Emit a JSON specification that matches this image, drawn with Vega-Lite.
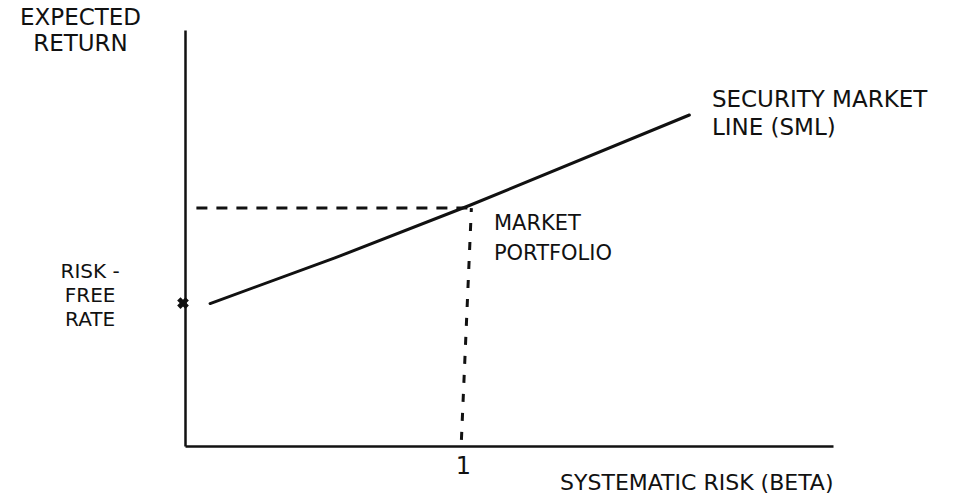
{
  "$schema": "https://vega.github.io/schema/vega-lite/v6.json",
  "width": 648,
  "height": 416,
  "autosize": {"type": "none"},
  "padding": {"left": 185, "top": 30, "right": 127, "bottom": 58},
  "background": "white",
  "config": {
    "view": {"stroke": null},
    "font": "DejaVu Sans",
    "text": {"font": "DejaVu Sans", "fontSize": 18, "color": "#111"}
  },
  "encoding": {
    "x": {"field": "beta", "type": "quantitative", "scale": {"domain": [0, 2.274], "nice": false, "zero": false}, "axis": {
      "title": "SYSTEMATIC RISK (BETA)", "titleFont": "DejaVu Sans", "titleFontSize": 22, "titleFontWeight": "normal", "titleColor": "#111",
      "titleAnchor": "end", "titleAlign": "right", "titleBaseline": "middle", "titleY": 36,
      "values": [1], "labelExpr": "'1'", "labelFontSize": 24, "labelColor": "#111", "labelOffset": -7, "labelPadding": 8,
      "ticks": false, "grid": false, "domainColor": "#111", "domainWidth": 2.5
    }},
    "y": {"field": "ret", "type": "quantitative", "scale": {"domain": [0, 8.76], "nice": false, "zero": false}, "axis": {
      "title": ["EXPECTED", "RETURN"], "titleFont": "DejaVu Sans", "titleFontSize": 23, "titleFontWeight": "normal", "titleColor": "#111",
      "titleAngle": 0, "titleAlign": "center", "titleBaseline": "top", "titleX": -105, "titleY": -24, "titleLineHeight": 26,
      "labels": false, "ticks": false, "grid": false, "domainColor": "#111", "domainWidth": 2.5
    }}
  },
  "layer": [
    {
      "data": {"values": [
        {"beta": 0.088, "ret": 3.0},
        {"beta": 0.526, "ret": 3.96},
        {"beta": 1.0, "ret": 5.07},
        {"beta": 1.77, "ret": 6.97}
      ]},
      "mark": {"type": "line", "color": "#111", "strokeWidth": 3, "strokeCap": "round"}
    },
    {
      "data": {"values": [
        {"beta": 0.04, "ret": 5.01},
        {"beta": 1.0, "ret": 5.01}
      ]},
      "mark": {"type": "line", "color": "#111", "strokeWidth": 3, "strokeDash": [11, 9]}
    },
    {
      "data": {"values": [
        {"beta": 1.005, "ret": 5.01},
        {"beta": 0.97, "ret": 0.13}
      ]},
      "mark": {"type": "line", "color": "#111", "strokeWidth": 3, "strokeDash": [8, 11]}
    },
    {
      "data": {"values": [{"beta": -0.007, "ret": 3.01}]},
      "mark": {"type": "point", "shape": "cross", "angle": 45, "size": 140, "filled": true, "color": "#111", "opacity": 1}
    },
    {
      "data": {"values": [
        {"beta": -0.333, "ret": 3.87, "label": ["RISK -", "FREE", "RATE"]}
      ]},
      "mark": {"type": "text", "align": "center", "baseline": "top", "lineHeight": 24, "fontSize": 20},
      "encoding": {"text": {"field": "label"}}
    },
    {
      "data": {"values": [
        {"beta": 1.084, "ret": 4.9, "label": ["MARKET", "PORTFOLIO"]}
      ]},
      "mark": {"type": "text", "align": "left", "baseline": "top", "lineHeight": 30, "fontSize": 21},
      "encoding": {"text": {"field": "label"}}
    },
    {
      "data": {"values": [
        {"beta": 1.849, "ret": 7.52, "label": ["SECURITY MARKET", "LINE (SML)"]}
      ]},
      "mark": {"type": "text", "align": "left", "baseline": "top", "lineHeight": 28, "fontSize": 23},
      "encoding": {"text": {"field": "label"}}
    }
  ]
}
